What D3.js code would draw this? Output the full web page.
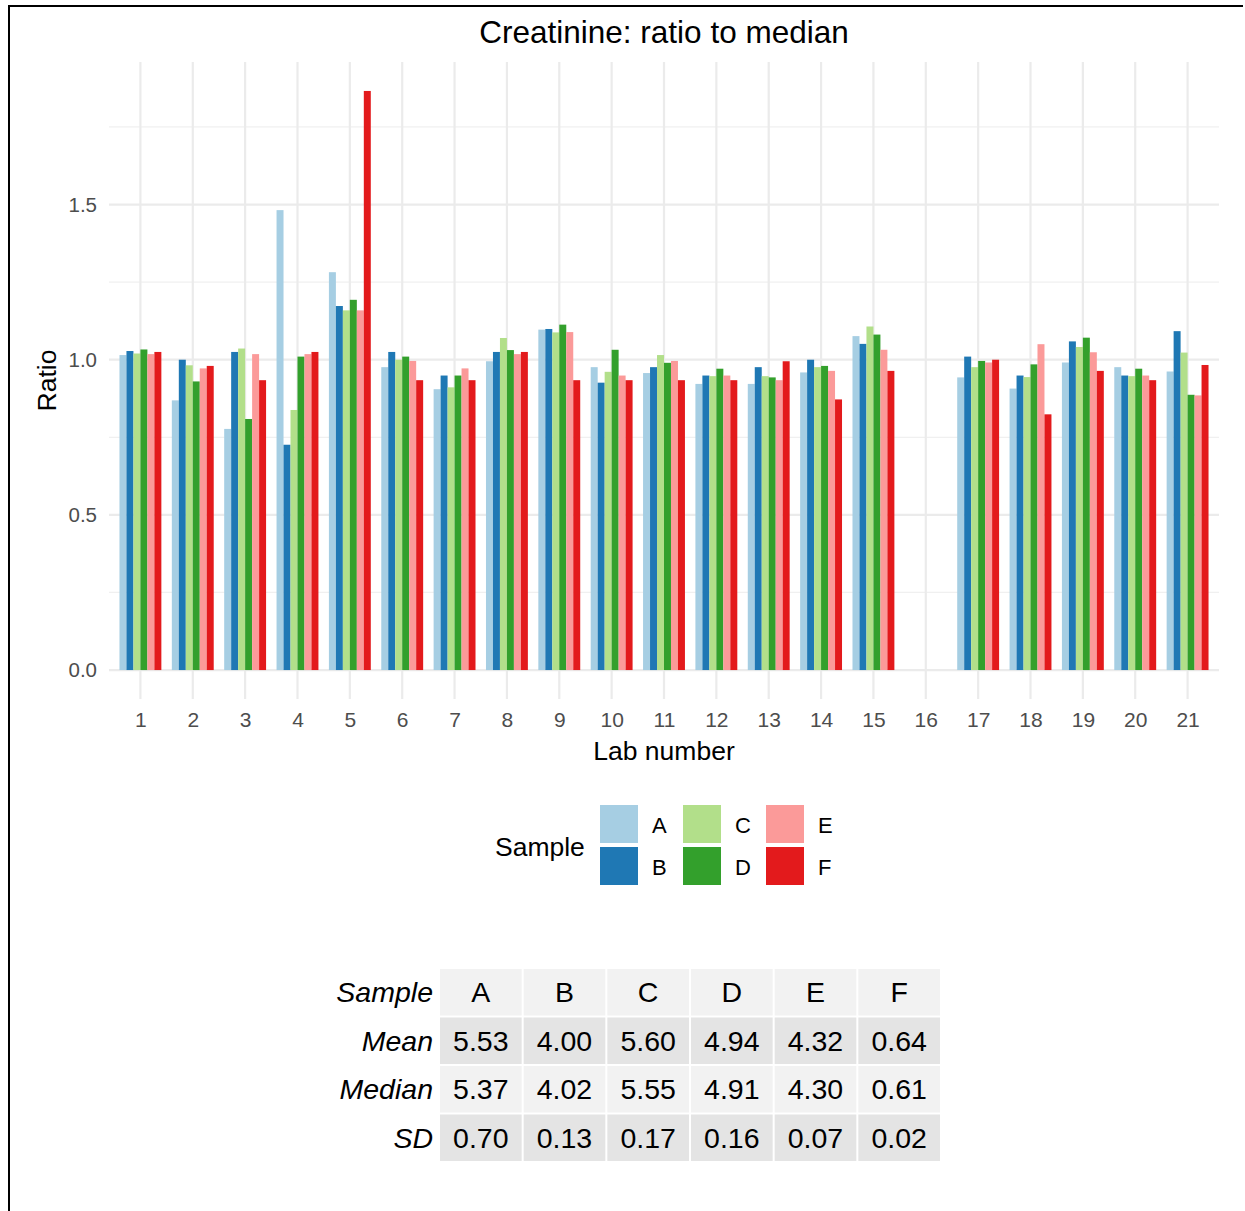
<!DOCTYPE html>
<html lang="en">
<head>
<meta charset="utf-8">
<title>Creatinine: ratio to median</title>
<script src="https://cdn.jsdelivr.net/npm/d3@7"></script>
<style>
  body { margin: 0; background: #fff; }
  text { font-family: "Liberation Sans", Arial, sans-serif; }
</style>
</head>
<body>
<script>
// lab numbers, lab 16 has no result
const labs = d3.range(1, 22).map(String);
const samples = ["A", "B", "C", "D", "E", "F"];
const colors = ["#a6cee3", "#1f78b4", "#b2df8a", "#33a02c", "#fb9a99", "#e31a1c"];

// ratio to median per sample, one value per lab (null = missing)
const ratioA = [1.015, 0.869, 0.777, 1.482, 1.282, 0.976, 0.905, 0.995, 1.097, 0.976, 0.957, 0.922, 0.922, 0.959, 1.076, null, 0.943, 0.907, 0.991, 0.976, 0.962];
const ratioB = [1.028, 1.000, 1.025, 0.726, 1.173, 1.025, 0.949, 1.025, 1.099, 0.926, 0.976, 0.949, 0.976, 1.000, 1.051, null, 1.010, 0.949, 1.059, 0.949, 1.092];
const ratioC = [1.020, 0.982, 1.036, 0.838, 1.159, 1.000, 0.911, 1.070, 1.088, 0.961, 1.015, 0.947, 0.947, 0.976, 1.107, null, 0.976, 0.944, 1.041, 0.947, 1.023];
const ratioD = [1.033, 0.930, 0.809, 1.010, 1.193, 1.010, 0.949, 1.031, 1.113, 1.032, 0.990, 0.971, 0.943, 0.980, 1.081, null, 0.996, 0.985, 1.071, 0.971, 0.887];
const ratioE = [1.018, 0.972, 1.018, 1.018, 1.159, 0.996, 0.972, 1.018, 1.089, 0.949, 0.996, 0.949, 0.934, 0.964, 1.032, null, 0.991, 1.050, 1.024, 0.949, 0.885];
const ratioF = [1.025, 0.980, 0.934, 1.025, 1.866, 0.934, 0.934, 1.025, 0.934, 0.934, 0.934, 0.934, 0.995, 0.872, 0.964, null, 1.000, 0.824, 0.964, 0.934, 0.983];
const series = [ratioA, ratioB, ratioC, ratioD, ratioE, ratioF];

const yTicks = [0, 0.5, 1.0, 1.5];
const yMinor = [0.25, 0.75, 1.25, 1.75];

// summary table
const statRows = ["Mean", "Median", "SD"];
const statMean = ["5.53", "4.00", "5.60", "4.94", "4.32", "0.64"];
const statMedian = ["5.37", "4.02", "5.55", "4.91", "4.30", "0.61"];
const statSD = ["0.70", "0.13", "0.17", "0.16", "0.07", "0.02"];
const statValues = [statMean, statMedian, statSD];

const W = 1245, H = 1211;
const svg = d3.select("body").append("svg")
  .attr("width", W)
  .attr("height", H);

// frame
svg.append("path")
  .attr("d", `M9,${H} L9,6 L1243,6`)
  .attr("fill", "none")
  .attr("stroke", "#000")
  .attr("stroke-width", 2);

// panel
const pLeft = 109, pRight = 1219, pTop = 62, pBottom = 699;

const data = [];
labs.forEach((lab, i) => {
  samples.forEach((s, j) => {
    if (series[j][i] != null) data.push({ lab: lab, sample: s, value: series[j][i] });
  });
});

const maxV = d3.max(data, d => d.value);
const y = d3.scaleLinear()
  .domain([-0.05 * maxV, maxV * 1.05])
  .range([pBottom, pTop]);

const unit = (pRight - pLeft) / (labs.length + 0.2);
const x = d3.scalePoint()
  .domain(labs)
  .range([pLeft + 0.6 * unit, pRight - 0.6 * unit]);
const groupW = unit * 0.8;
const xs = d3.scaleBand()
  .domain(samples)
  .range([-groupW / 2, groupW / 2]);
const color = d3.scaleOrdinal().domain(samples).range(colors);

const grid = svg.append("g");
grid.selectAll("line.minor")
  .data(yMinor)
  .enter()
  .append("line")
  .attr("x1", pLeft).attr("x2", pRight)
  .attr("y1", d => y(d)).attr("y2", d => y(d))
  .attr("stroke", "#f0f0f0")
  .attr("stroke-width", 1.2);
grid.selectAll("line.major")
  .data(yTicks)
  .enter()
  .append("line")
  .attr("x1", pLeft).attr("x2", pRight)
  .attr("y1", d => y(d)).attr("y2", d => y(d))
  .attr("stroke", "#ebebeb")
  .attr("stroke-width", 2.2);
grid.selectAll("line.vert")
  .data(labs)
  .enter()
  .append("line")
  .attr("x1", d => x(d)).attr("x2", d => x(d))
  .attr("y1", pTop).attr("y2", pBottom)
  .attr("stroke", "#ebebeb")
  .attr("stroke-width", 2.2);

// bars
svg.append("g")
  .selectAll("rect")
  .data(data)
  .enter()
  .append("rect")
  .attr("x", d => x(d.lab) + xs(d.sample))
  .attr("y", d => y(d.value))
  .attr("width", xs.bandwidth())
  .attr("height", d => y(0) - y(d.value))
  .attr("fill", d => color(d.sample));

// y axis
const yAxis = d3.axisLeft(y).tickValues(yTicks).tickFormat(d3.format(".1f")).tickSize(0).tickPadding(12);
const gy = svg.append("g")
  .attr("transform", `translate(${pLeft},0)`)
  .call(yAxis);
gy.select(".domain").remove();
gy.selectAll("text")
  .attr("font-size", 20.5)
  .attr("fill", "#4d4d4d")
  .style("font-family", "Liberation Sans, Arial, sans-serif");

// x axis
const xAxis = d3.axisBottom(x).tickSize(0).tickPadding(13);
const gx = svg.append("g")
  .attr("transform", `translate(0,${pBottom})`)
  .call(xAxis);
gx.select(".domain").remove();
gx.selectAll("text")
  .attr("font-size", 21)
  .attr("fill", "#4d4d4d")
  .style("font-family", "Liberation Sans, Arial, sans-serif");

// titles
svg.append("text")
  .attr("x", (pLeft + pRight) / 2)
  .attr("y", 43)
  .attr("text-anchor", "middle")
  .attr("font-size", 31.5)
  .attr("fill", "#000")
  .text("Creatinine: ratio to median");

svg.append("text")
  .attr("x", (pLeft + pRight) / 2)
  .attr("y", 760)
  .attr("text-anchor", "middle")
  .attr("font-size", 26.5)
  .attr("fill", "#000")
  .text("Lab number");

svg.append("text")
  .attr("transform", `translate(56,${(pTop + pBottom) / 2}) rotate(-90)`)
  .attr("text-anchor", "middle")
  .attr("font-size", 26.5)
  .attr("fill", "#000")
  .text("Ratio");

// legend
const legend = svg.append("g");
legend.append("text")
  .attr("x", 495)
  .attr("y", 856)
  .attr("font-size", 26.5)
  .text("Sample");
const keyX = d3.scalePoint().domain([0, 1, 2]).range([600, 766]);
const keyY = d3.scalePoint().domain([0, 1]).range([805, 847]);
const keys = legend.selectAll("g.key")
  .data(samples)
  .enter()
  .append("g");
keys.append("rect")
  .attr("x", (d, i) => keyX(Math.floor(i / 2)))
  .attr("y", (d, i) => keyY(i % 2))
  .attr("width", 38)
  .attr("height", 38)
  .attr("fill", d => color(d));
keys.append("text")
  .attr("x", (d, i) => keyX(Math.floor(i / 2)) + 52)
  .attr("y", (d, i) => keyY(i % 2) + 28)
  .attr("font-size", 22)
  .text(d => d);

// summary table
const tbl = svg.append("g");
const allRows = ["Sample"].concat(statRows);
const colX = d3.scaleBand().domain(samples).range([439, 941]);
const rowY = d3.scaleBand().domain(allRows).range([968, 1162]);
const gap = 2;
allRows.forEach((r, ri) => {
  const fill = (ri % 2 === 1) ? "#e4e4e4" : "#f2f2f2";
  tbl.selectAll(null)
    .data(samples)
    .enter()
    .append("rect")
    .attr("x", d => colX(d) + gap / 2)
    .attr("y", rowY(r) + gap / 2)
    .attr("width", colX.bandwidth() - gap)
    .attr("height", rowY.bandwidth() - gap)
    .attr("fill", fill);
  tbl.append("text")
    .attr("x", 433)
    .attr("y", rowY(r) + rowY.bandwidth() / 2 + 10)
    .attr("text-anchor", "end")
    .attr("font-size", 28.5)
    .attr("font-style", "italic")
    .text(r);
  tbl.selectAll(null)
    .data(samples)
    .enter()
    .append("text")
    .attr("x", d => colX(d) + colX.bandwidth() / 2)
    .attr("y", rowY(r) + rowY.bandwidth() / 2 + 10)
    .attr("text-anchor", "middle")
    .attr("font-size", 28.5)
    .text((d, i) => ri === 0 ? d : statValues[ri - 1][i]);
});
</script>
</body>
</html>
